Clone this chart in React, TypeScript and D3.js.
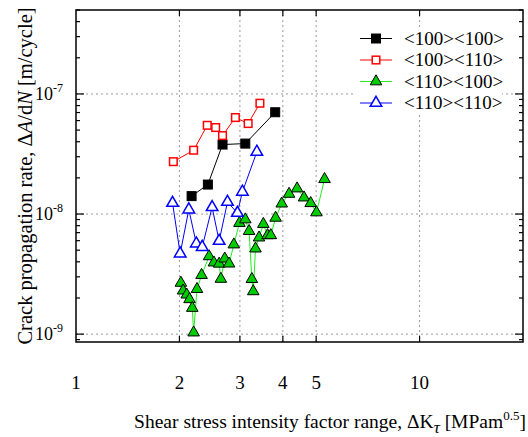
import React from 'react';
import * as d3 from 'd3';

// <100><100>
const k100_100 = [2.17, 2.42, 2.67, 3.11, 3.80];
const r100_100 = [1.41e-8, 1.76e-8, 3.79e-8, 3.86e-8, 7.04e-8];

// <100><110>
const k100_110 = [1.92, 2.20, 2.41, 2.55, 2.67, 2.91, 3.17, 3.43];
const r100_110 = [2.73e-8, 3.40e-8, 5.48e-8, 5.25e-8, 4.50e-8, 6.36e-8, 5.67e-8, 8.37e-8];

// <110><100>
const k110_100 = [2.02, 2.05, 2.10, 2.14, 2.18, 2.20, 2.25, 2.32, 2.44, 2.52, 2.61, 2.64, 2.71, 2.79, 2.88, 2.99,
  3.11, 3.19, 3.25, 3.28, 3.33, 3.41, 3.51, 3.61, 3.69, 3.81, 3.97, 4.17, 4.40, 4.61, 4.82, 5.01, 5.29];
const r110_100 = [2.67e-9, 2.30e-9, 2.13e-9, 1.95e-9, 1.65e-9, 1.03e-9, 2.37e-9, 3.10e-9, 4.44e-9, 3.94e-9, 3.85e-9,
  2.88e-9, 4.25e-9, 3.86e-9, 5.57e-9, 8.41e-9, 9.0e-9, 7.21e-9, 2.87e-9, 2.27e-9, 5.15e-9, 6.36e-9, 8.25e-9,
  6.65e-9, 6.65e-9, 9.29e-9, 1.22e-8, 1.47e-8, 1.63e-8, 1.37e-8, 1.23e-8, 1.03e-8, 1.95e-8];

// <110><110>
const k110_110 = [1.91, 2.01, 2.13, 2.24, 2.33, 2.49, 2.61, 2.76, 2.95, 3.05, 3.36];
const r110_110 = [1.235e-8, 4.68e-9, 1.09e-8, 5.67e-9, 5.31e-9, 1.14e-8, 5.96e-9, 1.26e-8, 1.02e-8, 1.53e-8, 3.29e-8];

const xTicks = [1, 2, 3, 4, 5, 10];
const xGrid = [2, 3, 4, 5, 10];
const yMajor = [1e-9, 1e-8, 1e-7];
const yExp = ['-9', '-8', '-7'];

const legendLabels = ['<100><100>', '<100><110>', '<110><100>', '<110><110>'];

const W = 528, H = 437;
const margin = { top: 10, right: 5, bottom: 95, left: 76 };
const FONT = '"Liberation Serif", "DejaVu Serif", serif';

type Style = { line: string; stroke: string; fill: string; shape: 'square' | 'triangle'; sw: number };
const styles: Style[] = [
  { line: '#000000', stroke: '#000000', fill: '#000000', shape: 'square', sw: 1 },
  { line: '#ff0000', stroke: '#ff0000', fill: '#ffffff', shape: 'square', sw: 1.5 },
  { line: '#22ee22', stroke: '#000000', fill: '#00cc00', shape: 'triangle', sw: 1 },
  { line: '#0000ff', stroke: '#0000ff', fill: '#ffffff', shape: 'triangle', sw: 1.5 },
];

const Marker = ({ x, y, s }: { x: number; y: number; s: Style }) => {
  if (s.shape === 'square') {
    const h = s.fill === '#000000' ? 4.5 : 3.8;
    return <rect x={x - h} y={y - h} width={2 * h} height={2 * h} fill={s.fill} stroke={s.stroke} strokeWidth={s.sw} />;
  }
  const path = d3.symbol().type(d3.symbolTriangle).size(58)()!;
  return <path d={path} transform={`translate(${x},${y})`} fill={s.fill} stroke={s.stroke} strokeWidth={s.sw} />;
};

export default function App() {
  const x = d3.scaleLog().domain([1, 20]).range([margin.left, W - margin.right]);
  const y = d3.scaleLog().domain([8.6e-10, 5e-7]).range([H - margin.bottom, margin.top]);
  const [x0, x1] = x.range();
  const [y0, y1] = y.range();

  const series = [
    { k: k100_100, r: r100_100 },
    { k: k100_110, r: r100_110 },
    { k: k110_100, r: r110_100 },
    { k: k110_110, r: r110_110 },
  ];

  const line = d3.line<[number, number]>().x(d => x(d[0])).y(d => y(d[1]));

  const yMinor: number[] = [];
  for (let e = -10; e <= -7; e++) {
    for (let m = 2; m <= 9; m++) {
      const v = m * Math.pow(10, e);
      if (v >= 8.6e-10 && v <= 5e-7) yMinor.push(v);
    }
  }

  const legX = 360, legY = 38.5, legDy = 21.5;

  return (
    <svg width={W} height={H} style={{ position: 'absolute', left: 0, top: 0, background: '#fff' }} fontFamily={FONT}>
      {/* grid */}
      {xGrid.map(t => (
        <line key={'gx' + t} x1={x(t)} x2={x(t)} y1={y0} y2={y1} stroke="#999" strokeDasharray="2,3" strokeWidth={1} />
      ))}
      {yMajor.map(t => (
        <line key={'gy' + t} x1={x0} x2={x1} y1={y(t)} y2={y(t)} stroke="#999" strokeDasharray="2,3" strokeWidth={1} />
      ))}

      {/* ticks */}
      {yMajor.map(t => (
        <g key={'ym' + t}>
          <line x1={x0} x2={x0 + 8} y1={y(t)} y2={y(t)} stroke="#000" strokeWidth={1.2} />
          <line x1={x1} x2={x1 - 8} y1={y(t)} y2={y(t)} stroke="#000" strokeWidth={1.2} />
        </g>
      ))}
      {yMinor.map(t => (
        <g key={'yn' + t}>
          <line x1={x0} x2={x0 + 4} y1={y(t)} y2={y(t)} stroke="#000" strokeWidth={1.2} />
          <line x1={x1} x2={x1 - 4} y1={y(t)} y2={y(t)} stroke="#000" strokeWidth={1.2} />
        </g>
      ))}
      {xGrid.map(t => (
        <g key={'xt' + t}>
          <line x1={x(t)} x2={x(t)} y1={y0} y2={y0 - 6} stroke="#000" strokeWidth={1.2} />
          <line x1={x(t)} x2={x(t)} y1={y1} y2={y1 + 6} stroke="#000" strokeWidth={1.2} />
        </g>
      ))}

      {/* legend background */}
      <rect x={354} y={27} width={148} height={87} fill="#fff" />

      {/* data */}
      {series.map((s, i) => (
        <g key={'s' + i}>
          <path d={line(s.k.map((k, j) => [k, s.r[j]] as [number, number]))!} fill="none" stroke={styles[i].line} strokeWidth={1} />
          {s.k.map((k, j) => (
            <Marker key={j} x={x(k)} y={y(s.r[j])} s={styles[i]} />
          ))}
        </g>
      ))}

      {/* frame */}
      <rect x={x0} y={y1} width={x1 - x0} height={y0 - y1} fill="none" stroke="#000" strokeWidth={1.5} />

      {/* tick labels */}
      {xTicks.map(t => (
        <text key={'xl' + t} x={x(t)} y={y0 + 47} textAnchor="middle" fontSize={19}>{t}</text>
      ))}
      {yMajor.map((t, i) => (
        <text key={'yl' + t} x={x0 - 13} y={y(t) + 6} textAnchor="end" fontSize={18}>
          10<tspan dy={-8} fontSize={12}>{yExp[i]}</tspan>
        </text>
      ))}

      {/* legend */}
      {legendLabels.map((l, i) => (
        <g key={'lg' + i}>
          <line x1={legX} x2={legX + 32} y1={legY + i * legDy} y2={legY + i * legDy} stroke={styles[i].line} strokeWidth={1} />
          <Marker x={legX + 16} y={legY + i * legDy} s={styles[i]} />
          <text x={legX + 44} y={legY + i * legDy + 6} fontSize={19}>{l}</text>
        </g>
      ))}

      {/* axis titles */}
      <text x={330} y={428} textAnchor="middle" fontSize={19.5}>
        Shear stress intensity factor range, ΔK<tspan fontStyle="italic" dy={5} fontSize={17}>τ</tspan><tspan dy={-5}> [MPam</tspan><tspan dy={-8} fontSize={13}>0.5</tspan><tspan dy={8}>]</tspan>
      </text>
      <text transform={`translate(32,${(y0 + y1) / 2}) rotate(-90)`} textAnchor="middle" fontSize={20.5}>
        Crack propagation rate, Δ<tspan fontStyle="italic">A</tspan>/d<tspan fontStyle="italic">N</tspan> [m/cycle]
      </text>
    </svg>
  );
}
